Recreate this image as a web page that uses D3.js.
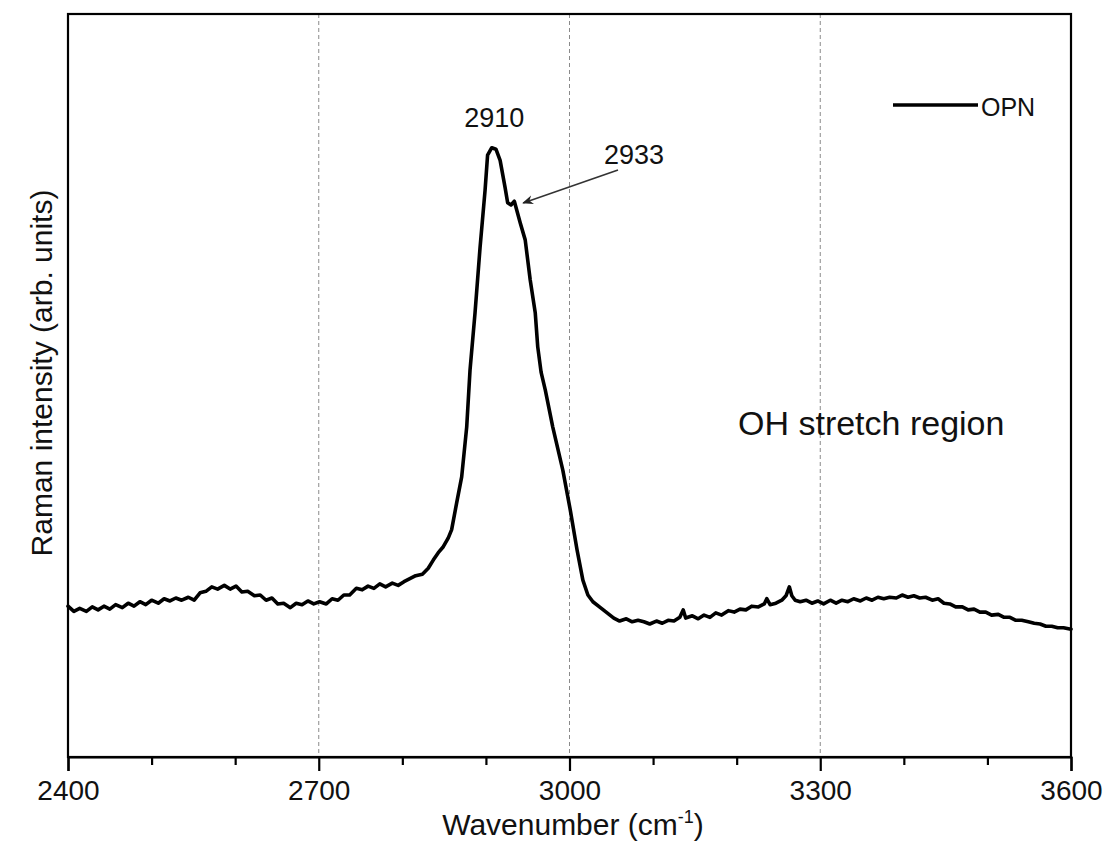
<!DOCTYPE html>
<html>
<head>
<meta charset="utf-8">
<script src="https://cdn.jsdelivr.net/npm/d3@7"></script>
<style>
  html, body { margin: 0; padding: 0; background: #fff; }
  svg { display: block; font-family: "Liberation Sans", Arial, sans-serif; }
</style>
</head>
<body>
<svg id="chart" width="1104" height="852"></svg>
<script>
// ---- data ----
const wavenumber = [2400,2407,2414,2422,2429,2436,2443,2450,2457,2465,2472,2479,2486,2493,2500,2508,2515,2522,2529,2536,2544,2551,2558,2565,2572,2579,2587,2594,2601,2608,2615,2623,2630,2637,2644,2651,2658,2666,2673,2680,2687,2694,2701,2709,2716,2723,2730,2737,2745,2752,2759,2766,2773,2780,2788,2795,2802,2809,2816,2824,2831,2837,2843,2849,2855,2859,2865,2871,2877,2881,2887,2893,2899,2902,2907,2912,2917,2923,2926,2930,2934,2941,2947,2953,2959,2962,2966,2971,2980,2992,3001,3009,3016,3022,3028,3037,3045,3053,3060,3068,3075,3082,3089,3096,3104,3111,3118,3125,3132,3136,3139,3147,3154,3161,3168,3175,3182,3190,3197,3204,3211,3218,3226,3233,3236,3240,3247,3254,3259,3263,3266,3270,3276,3283,3290,3297,3304,3312,3319,3326,3333,3340,3348,3355,3362,3369,3376,3383,3391,3398,3405,3412,3419,3426,3434,3441,3448,3455,3462,3470,3477,3484,3491,3498,3505,3513,3520,3527,3534,3541,3549,3556,3563,3570,3577,3584,3591,3600];
const intensity = [20.3,19.6,20.0,19.6,20.2,19.8,20.3,19.9,20.5,20.1,20.7,20.3,20.9,20.5,21.1,20.7,21.3,21.0,21.4,21.1,21.5,21.1,22.1,22.3,22.9,22.6,23.1,22.6,23.0,22.2,22.3,21.7,21.8,21.1,21.4,20.6,20.7,20.1,20.7,20.5,21.0,20.6,20.9,20.6,21.3,21.1,21.8,21.8,22.7,22.5,23.0,22.7,23.3,22.9,23.4,23.1,23.6,24.0,24.4,24.6,25.4,26.5,27.5,28.3,29.5,30.6,34.2,37.7,44.4,52.1,59.8,68.6,76.3,81.0,82.0,81.8,80.3,76.6,74.6,74.3,74.8,71.9,69.6,64.2,59.8,55.2,51.8,49.4,44.4,38.6,33.2,27.9,23.8,21.8,20.9,20.1,19.4,18.7,18.3,18.6,18.2,18.4,18.2,17.9,18.3,18.0,18.4,18.3,18.8,19.8,18.7,19.0,18.6,19.1,18.8,19.4,19.1,19.7,19.5,19.9,19.8,20.3,20.2,20.6,21.3,20.5,20.7,21.1,21.7,22.9,21.7,21.1,20.9,21.1,20.7,21.0,20.6,21.1,20.7,21.1,20.9,21.3,21.0,21.4,21.1,21.5,21.3,21.5,21.4,21.8,21.5,21.7,21.4,21.5,21.1,21.3,20.7,20.6,20.2,20.2,19.8,19.9,19.5,19.5,19.1,19.2,18.8,18.8,18.4,18.4,18.2,18.0,17.9,17.6,17.6,17.4,17.4,17.2];
const majorTicks = [2400, 2700, 3000, 3300, 3600];
const minorTicks = [2500, 2600, 2800, 2900, 3100, 3200, 3400, 3500];
const gridLines = [2700, 3000, 3300];
const seriesName = "OPN";
const peakLabels = ["2910", "2933"];
const regionLabel = "OH stretch region";
const xTitle = "Wavenumber (cm";
const yTitle = "Raman intensity (arb. units)";

// ---- layout ----
const svg = d3.select("#chart");
const L = 68, R = 1071, T = 14, B = 757;
const x = d3.scaleLinear().domain([2400, 3600]).range([L, R]);
const y = d3.scaleLinear().domain([0, 100]).range([B, T]);

// grid
svg.append("g").selectAll("line").data(gridLines).join("line")
  .attr("x1", d => x(d)).attr("x2", d => x(d))
  .attr("y1", T).attr("y2", B)
  .attr("stroke", "#8a8a8a").attr("stroke-width", 1)
  .attr("stroke-dasharray", "4,3");

// curve
const pts = wavenumber.map((w, i) => [w, intensity[i]]);
svg.append("path").datum(pts)
  .attr("fill", "none").attr("stroke", "#000")
  .attr("stroke-width", 3.6).attr("stroke-linejoin", "round").attr("stroke-linecap", "round")
  .attr("d", d3.line().x(d => x(d[0])).y(d => y(d[1])));

// frame
svg.append("rect").attr("x", L).attr("y", T).attr("width", R - L).attr("height", B - T)
  .attr("fill", "none").attr("stroke", "#000").attr("stroke-width", 2.2);

// x axis major
const gx = svg.append("g").attr("transform", `translate(0,${B})`)
  .call(d3.axisBottom(x).tickValues(majorTicks).tickSize(14).tickPadding(9).tickFormat(d3.format("d")));
gx.select(".domain").attr("stroke-width", 2.2);
gx.selectAll(".tick line").attr("stroke-width", 2.2);
gx.selectAll(".tick text").attr("font-size", 28).attr("fill", "#111")
  .attr("font-family", "'Liberation Sans', Arial, sans-serif");

// x axis minor
const gxm = svg.append("g").attr("transform", `translate(0,${B})`)
  .call(d3.axisBottom(x).tickValues(minorTicks).tickSize(8).tickFormat(""));
gxm.select(".domain").remove();
gxm.selectAll(".tick line").attr("stroke-width", 2.2);

// x title
const xt = svg.append("text").attr("x", 573).attr("y", 835).attr("text-anchor", "middle")
  .attr("font-size", 30).attr("fill", "#111");
xt.append("tspan").text(xTitle);
xt.append("tspan").attr("dy", -12).attr("font-size", 18).text("-1");
xt.append("tspan").attr("dy", 12).text(")");

// y title
svg.append("text").attr("transform", "translate(52,373) rotate(-90)")
  .attr("text-anchor", "middle").attr("font-size", 30).attr("fill", "#111")
  .text(yTitle);

// legend
svg.append("line").attr("x1", 893).attr("x2", 978).attr("y1", 105).attr("y2", 105)
  .attr("stroke", "#000").attr("stroke-width", 3.6);
svg.append("text").attr("x", 981).attr("y", 116).attr("font-size", 25).attr("fill", "#111").text(seriesName);

// peak annotations
svg.append("text").attr("x", x(2910)).attr("y", 127).attr("text-anchor", "middle")
  .attr("font-size", 27).attr("fill", "#111").text(peakLabels[0]);
svg.append("text").attr("x", 604).attr("y", 164)
  .attr("font-size", 27).attr("fill", "#111").text(peakLabels[1]);

// arrow
const defs = svg.append("defs");
defs.append("marker").attr("id", "ah").attr("viewBox", "0 0 10 10")
  .attr("refX", 9).attr("refY", 5).attr("markerWidth", 16).attr("markerHeight", 11)
  .attr("markerUnits", "userSpaceOnUse").attr("orient", "auto")
  .append("path").attr("d", "M0,1 L10,5 L0,9 L3,5 Z").attr("fill", "#222");
svg.append("line").attr("x1", 618).attr("y1", 170).attr("x2", x(2935) + 8).attr("y2", 203)
  .attr("stroke", "#333").attr("stroke-width", 1.6).attr("marker-end", "url(#ah)");

// region label
svg.append("text").attr("x", 738).attr("y", 435).attr("font-size", 34).attr("fill", "#111").text(regionLabel);
</script>
</body>
</html>
